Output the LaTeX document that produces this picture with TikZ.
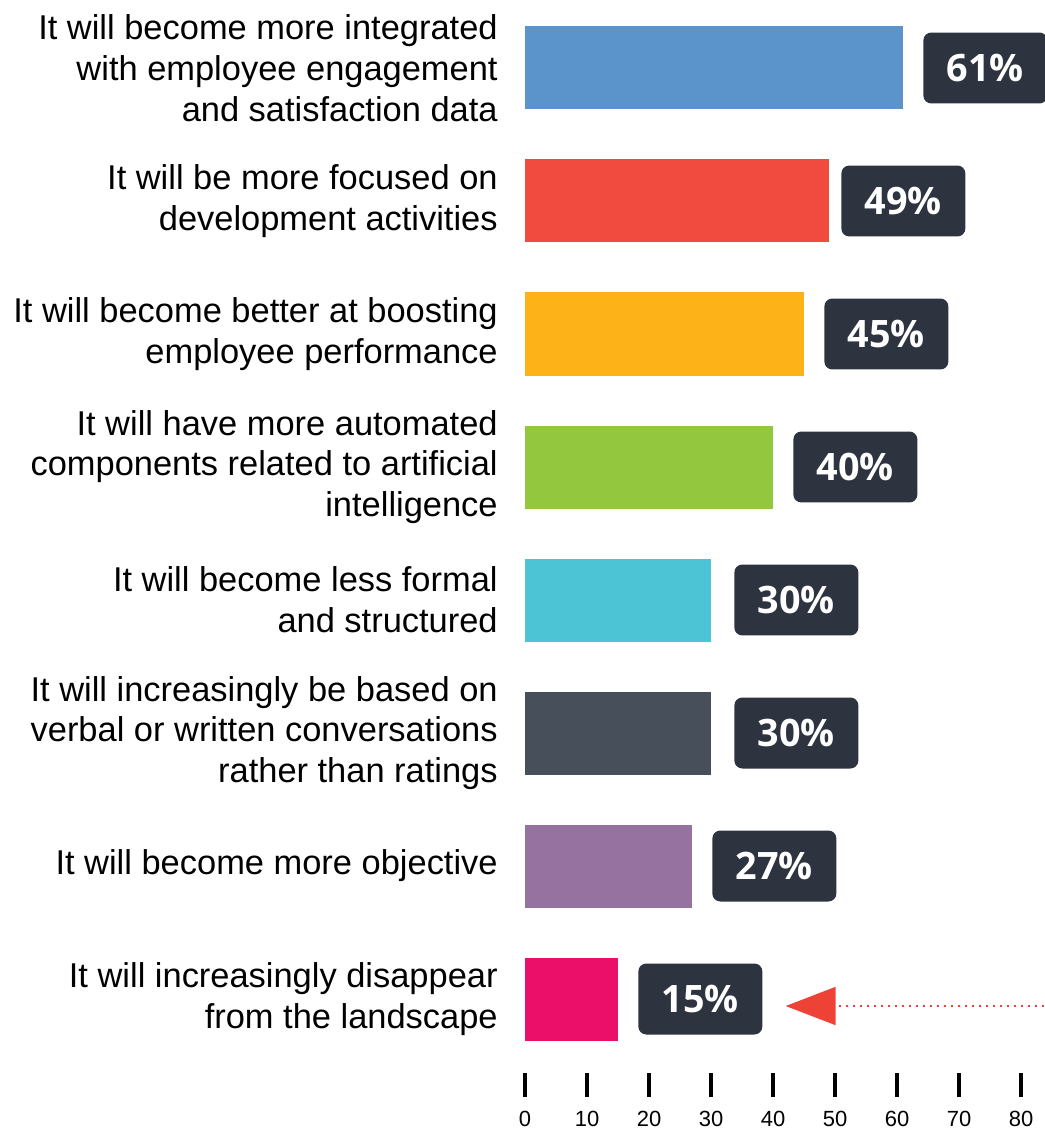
\documentclass[tikz,border=0pt]{standalone}
\usepackage{fontspec}
\setmainfont{Liberation Sans}
\newfontfamily\valfont{Open Sans}
\usetikzlibrary{arrows.meta}

\definecolor{barblue}{HTML}{5B93CB}
\definecolor{barred}{HTML}{F14A3E}
\definecolor{baryellow}{HTML}{FDB218}
\definecolor{bargreen}{HTML}{93C83E}
\definecolor{barcyan}{HTML}{4DC3D6}
\definecolor{barslate}{HTML}{474F5B}
\definecolor{barpurple}{HTML}{9572A0}
\definecolor{barpink}{HTML}{EC0F6A}
\definecolor{boxgray}{HTML}{2D3440}
\definecolor{arrowred}{HTML}{EE4237}

\begin{document}
\begin{tikzpicture}[x=0.02cm,y=-0.02cm,
	itemlabel/.style={anchor=east,align=right,inner sep=0pt,font=\fontsize{19.6}{23.2}\selectfont},
	valbox/.style={anchor=west,fill=boxgray,text=white,rounded corners=4.5pt,minimum width=2.48cm,minimum height=1.42cm,inner sep=0pt,font=\valfont\bfseries\fontsize{21.5}{24}\selectfont},
	ticklabel/.style={inner sep=0pt,font=\fontsize{12.5}{15}\selectfont},
	arrowline/.style={arrowred,line width=1.1pt,dash pattern=on 0.04cm off 0.1cm,-{Triangle[length=1cm,width=0.76cm]}}]
	\useasboundingbox (0,0) rectangle (1044,1131);
	% bars, texts and values
	\foreach \val/\bx/\col/\txt [count=\i] in {
		61/923/barblue/{It will become more integrated\\with employee engagement\\and satisfaction data},
		49/841/barred/{It will be more focused on\\development activities},
		45/824/baryellow/{It will become better at boosting\\employee performance},
		40/793/bargreen/{It will have more automated\\components related to artificial\\intelligence},
		30/734/barcyan/{It will become less formal\\and structured},
		30/734/barslate/{It will increasingly be based on\\verbal or written conversations\\rather than ratings},
		27/712/barpurple/{It will become more objective},
		15/638/barpink/{It will increasingly disappear\\from the landscape}}{
		\pgfmathsetmacro\yc{68+133*(\i-1)}
		\fill[\col] (525,\yc-41.5) rectangle ({525+6.2*\val},\yc+41.5);
		\node[itemlabel] (item\i) at (498,\yc) {\txt};
		\node[valbox] (lab\i) at (\bx,\yc) {\val\%};
	}
	% axis
	\foreach \v in {0,10,...,80}{
		\draw[line width=2.3pt] ({525+6.2*\v},1073) -- ({525+6.2*\v},1097);
		\node[ticklabel] (tick\v) at ({525+6.2*\v},1119) {\v};
	}
	\coordinate (arrowstart) at (1044,1006);
	\draw[arrowline,shorten >=0.46cm] (arrowstart) -- (lab8.east |- arrowstart);
\end{tikzpicture}
\end{document}
